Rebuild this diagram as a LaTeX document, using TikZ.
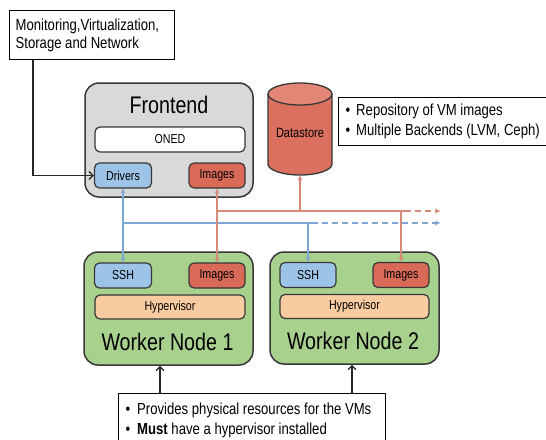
\documentclass[tikz,border=0pt]{standalone}
\usepackage{fontspec}
\setmainfont{Liberation Sans}[FakeStretch=0.82]
\usetikzlibrary{arrows.meta}
\definecolor{boxline}{RGB}{55,55,55}
\definecolor{fegray}{RGB}{217,217,217}
\definecolor{bluefill}{RGB}{157,195,230}
\definecolor{redfill}{RGB}{218,106,88}
\definecolor{dsfill}{RGB}{220,112,95}
\definecolor{dstop}{RGB}{228,134,118}
\definecolor{hypfill}{RGB}{249,203,160}
\definecolor{wngreen}{RGB}{169,209,142}
\definecolor{bluec}{RGB}{128,166,210}
\definecolor{redc}{RGB}{214,138,122}
\begin{document}
\begin{tikzpicture}[x=1pt,y=-1pt,
  big/.style={draw=boxline, line width=1.5pt, rounded corners=14pt, inner sep=0pt},
  small/.style={draw=boxline, line width=1.2pt, rounded corners=5pt, inner sep=0pt,
    font=\fontsize{13}{15}\selectfont},
  title/.style={anchor=base, inner sep=0pt, font=\fontsize{24}{28}\selectfont},
  note/.style={draw=black, line width=1.3pt, align=left, anchor=north west,
    inner ysep=0pt, font=\fontsize{16}{20}\selectfont},
  bluel/.style={draw=bluec, line width=1.8pt},
  redl/.style={draw=redc, line width=1.8pt},
  ctip/.style={-{Stealth[length=5pt,width=5pt]}},
  ktip/.style={-{Straight Barb[length=4pt,width=8pt]}, line width=1.3pt, draw=black!85}
]
\useasboundingbox (0,0) rectangle (546,439);
\fill[white] (0,0) rectangle (546,439);

% Top-left note
\node[note, inner xsep=6pt, minimum height=49pt, font=\fontsize{16}{18}\selectfont] (mon) at (9,10)
  {\makebox[153pt][l]{Monitoring,Virtualization,}\\Storage and Network};

% Frontend
\node[big, fill=fegray, minimum width=168pt, minimum height=114pt] (fe) at (169,140) {};
\node[title] (fetitle) at (169,113) {Frontend};
\node[small, fill=white, minimum width=150pt, minimum height=25pt] (oned) at (170,139.5) {ONED};
\node[small, fill=bluefill, minimum width=57pt, minimum height=25pt] (drv) at (123,175.5) {Drivers};
\node[small, fill=redfill, minimum width=56pt, minimum height=25pt] (feimg) at (217,175.5) {Images};

% Datastore cylinder
\fill[dsfill] (268,94) -- (268,164) arc[start angle=180, end angle=0, x radius=32, y radius=11]
  -- (332,94) arc[start angle=0, end angle=-180, x radius=32, y radius=11] -- cycle;
\fill[dstop] (300,94) ellipse[x radius=32, y radius=11];
\draw[boxline, line width=1.3pt] (268,94) -- (268,164) arc[start angle=180, end angle=0, x radius=32, y radius=11] -- (332,94);
\draw[boxline, line width=1.3pt] (300,94) ellipse[x radius=32, y radius=11];
\node[inner sep=0pt, font=\fontsize{13.5}{15}\selectfont] (ds) at (300,133) {Datastore};
\coordinate (dsb) at (300,175.5);

% Datastore note
\node[note, inner xsep=7pt, minimum height=48pt] (dsinfo) at (338,97)
  {\makebox[189pt][l]{•\hspace{6pt}Repository of VM images}\\•\hspace{6pt}Multiple Backends (LVM, Ceph)};

% Worker Node 1
\node[big, fill=wngreen, minimum width=169pt, minimum height=113pt] (wn1) at (168.5,308.5) {};
\node[small, fill=bluefill, minimum width=57pt, minimum height=25pt] (ssh1) at (123,275.5) {SSH};
\node[small, fill=redfill, minimum width=56pt, minimum height=25pt] (img1) at (217,275.5) {Images};
\node[small, fill=hypfill, minimum width=150pt, minimum height=24pt] (hyp1) at (170,307) {Hypervisor};
\node[title] (wn1title) at (167.5,350) {Worker Node 1};

% Worker Node 2
\node[big, fill=wngreen, minimum width=169pt, minimum height=112pt] (wn2) at (354.5,308) {};
\node[small, fill=bluefill, minimum width=56pt, minimum height=25pt] (ssh2) at (308,275) {SSH};
\node[small, fill=redfill, minimum width=56pt, minimum height=25pt] (img2) at (401,275) {Images};
\node[small, fill=hypfill, minimum width=149pt, minimum height=24pt] (hyp2) at (354.5,306.5) {Hypervisor};
\node[title] (wn2title) at (353,349) {Worker Node 2};

% Bottom note
\node[note, inner xsep=7pt, minimum height=54pt] (phys) at (118,393)
  {\makebox[253pt][l]{•\hspace{7pt}Provides physical resources for the VMs}\\•\hspace{7pt}\textbf{Must} have a hypervisor installed};

% Blue network
\coordinate (bj) at (123,223);
\coordinate (bd) at (312,223);
\coordinate (be) at (440,223);
\draw[bluel, {Stealth[length=5pt,width=5pt]}-{Stealth[length=5pt,width=5pt]}] (drv.south) -- (ssh1.north);
\draw[bluel] (bj) -- (bd);
\draw[bluel, ctip, dashed, dash pattern=on 6pt off 4pt] (bd) -- (be);
\draw[bluel, ctip] (ssh2.north |- bj) -- (ssh2.north);

% Red network
\coordinate (rj) at (217,211);
\coordinate (rd) at (405,211);
\coordinate (re) at (440,211);
\draw[redl, {Stealth[length=5pt,width=5pt]}-{Stealth[length=5pt,width=5pt]}] (feimg.south) -- (img1.north);
\draw[redl] (rj) -- (rd);
\draw[redl, ctip, dashed, dash pattern=on 6pt off 4pt] (rd) -- (re);
\draw[redl, ctip] (img2.north |- rj) -- (img2.north);
\draw[redl, ctip] (dsb |- rj) -- (dsb);

% Black connectors
\coordinate (mx) at (33,0);
\draw[ktip] (mon.south -| mx) |- (drv.west);
\coordinate (p1) at (160,0);
\coordinate (p2) at (352,0);
\draw[ktip] (phys.north -| p1) -- (wn1.south -| p1);
\draw[ktip] (phys.north -| p2) -- (wn2.south -| p2);
\end{tikzpicture}
\end{document}
